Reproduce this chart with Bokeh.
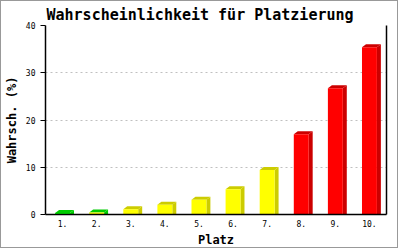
from bokeh.plotting import figure
from bokeh.models import (LinearAxis, FixedTicker, Range1d)
from bokeh.embed import file_html
from bokeh.resources import INLINE

# ---- data ----
places = [1, 2, 3, 4, 5, 6, 7, 8, 9, 10]
place_labels = ["1.", "2.", "3.", "4.", "5.", "6.", "7.", "8.", "9.", "10."]
probability = [0.3, 0.4, 1.1, 2.05, 3.1, 5.35, 9.4, 17.0, 26.7, 35.4]
y_ticks = [0, 10, 20, 30, 40]

# ---- styles ----
front_colors = ["#00ee00", "#ffff00", "#ffff00", "#ffff00", "#ffff00", "#ffff00", "#ffff00",
                "#ff0000", "#ff0000", "#ff0000"]
side_colors = ["#00cc00", "#00cc00", "#cccc00", "#cccc00", "#cccc00", "#cccc00", "#cccc00",
               "#cc0000", "#cc0000", "#cc0000"]

W, H = 398, 248
ML, MR, MT, MB = 42, 13, 24, 35
FW, FH = W - ML - MR, H - MT - MB
XMIN, XMAX, YMIN, YMAX = 0.5, 10.5, 0, 40
px_x = (XMAX - XMIN) / FW
px_y = (YMAX - YMIN) / FH
bar_w = 15 * px_x
dx, dy = 4 * px_x, 3 * px_y

MONO = "DejaVu Sans Mono"

p = figure(width=W, height=H, output_backend="svg", toolbar_location=None,
           x_range=Range1d(XMIN, XMAX), y_range=Range1d(YMIN, YMAX),
           min_border_left=ML, min_border_right=MR, min_border_top=MT, min_border_bottom=MB,
           outline_line_color=None, x_axis_label="Platz", y_axis_label="Wahrsch. (%)",
           title="Wahrscheinlichkeit für Platzierung")
p.background_fill_color = "white"
p.border_fill_color = "white"
p.styles = {"border": "1px solid #999999"}

p.title.text_font = MONO
p.title.text_font_size = "15px"
p.title.text_font_style = "bold"
p.title.text_color = "black"
p.title.align = "left"
p.title.offset = 1
p.title.standoff = 4

# grid
p.xgrid.visible = False
p.ygrid.ticker = FixedTicker(ticks=y_ticks)
p.ygrid.grid_line_color = "#c0c0c0"
p.ygrid.grid_line_dash = "2 3"

# 3D bars
sx, sy, tx, ty = [], [], [], []
for x, v in zip(places, probability):
    xl, xr = x - bar_w / 2, x + bar_w / 2
    sx.append([xr, xr, xr + dx, xr + dx])
    sy.append([0, v, v + dy, 0])
    tx.append([xl, xl + dx, xr + dx, xr])
    ty.append([v, v + dy, v + dy, v])
p.patches(xs=sx, ys=sy, fill_color=side_colors, line_color=None)
p.patches(xs=tx, ys=ty, fill_color=side_colors, line_color=None)
p.vbar(x=places, top=probability, bottom=0, width=bar_w, fill_color=front_colors, line_color=None)

# axes
xa = p.xaxis[0]
xa.ticker = FixedTicker(ticks=places)
xa.major_label_overrides = {pl: lab for pl, lab in zip(places, place_labels)}
xa.major_tick_out = 0
xa.major_tick_in = 0
xa.minor_tick_out = 0
xa.major_label_standoff = 5
xa.major_label_text_font = MONO
xa.major_label_text_font_size = "8px"
xa.major_label_text_color = "black"
xa.axis_label_text_font = MONO
xa.axis_label_text_font_size = "12px"
xa.axis_label_text_font_style = "bold"
xa.axis_label_text_color = "black"
xa.axis_label_standoff = 3
xa.axis_line_color = "black"
xa.axis_line_width = 1.5

ya = p.yaxis[0]
ya.ticker = FixedTicker(ticks=y_ticks)
ya.major_tick_out = 5
ya.major_tick_in = 0
ya.minor_tick_out = 0
ya.minor_tick_in = 0
ya.major_label_standoff = 5
ya.major_label_text_font = MONO
ya.major_label_text_font_size = "8px"
ya.major_label_text_color = "black"
ya.axis_label_text_font = MONO
ya.axis_label_text_font_size = "12px"
ya.axis_label_text_font_style = "bold"
ya.axis_label_text_color = "black"
ya.axis_label_standoff = 4
ya.axis_line_width = 1.5

ra = LinearAxis(ticker=FixedTicker(ticks=[]), major_tick_out=0, minor_tick_out=0,
                major_label_text_font_size="0px", axis_line_width=1.5)
p.add_layout(ra, "right")

open("out.html", "w").write(file_html(p, INLINE))
